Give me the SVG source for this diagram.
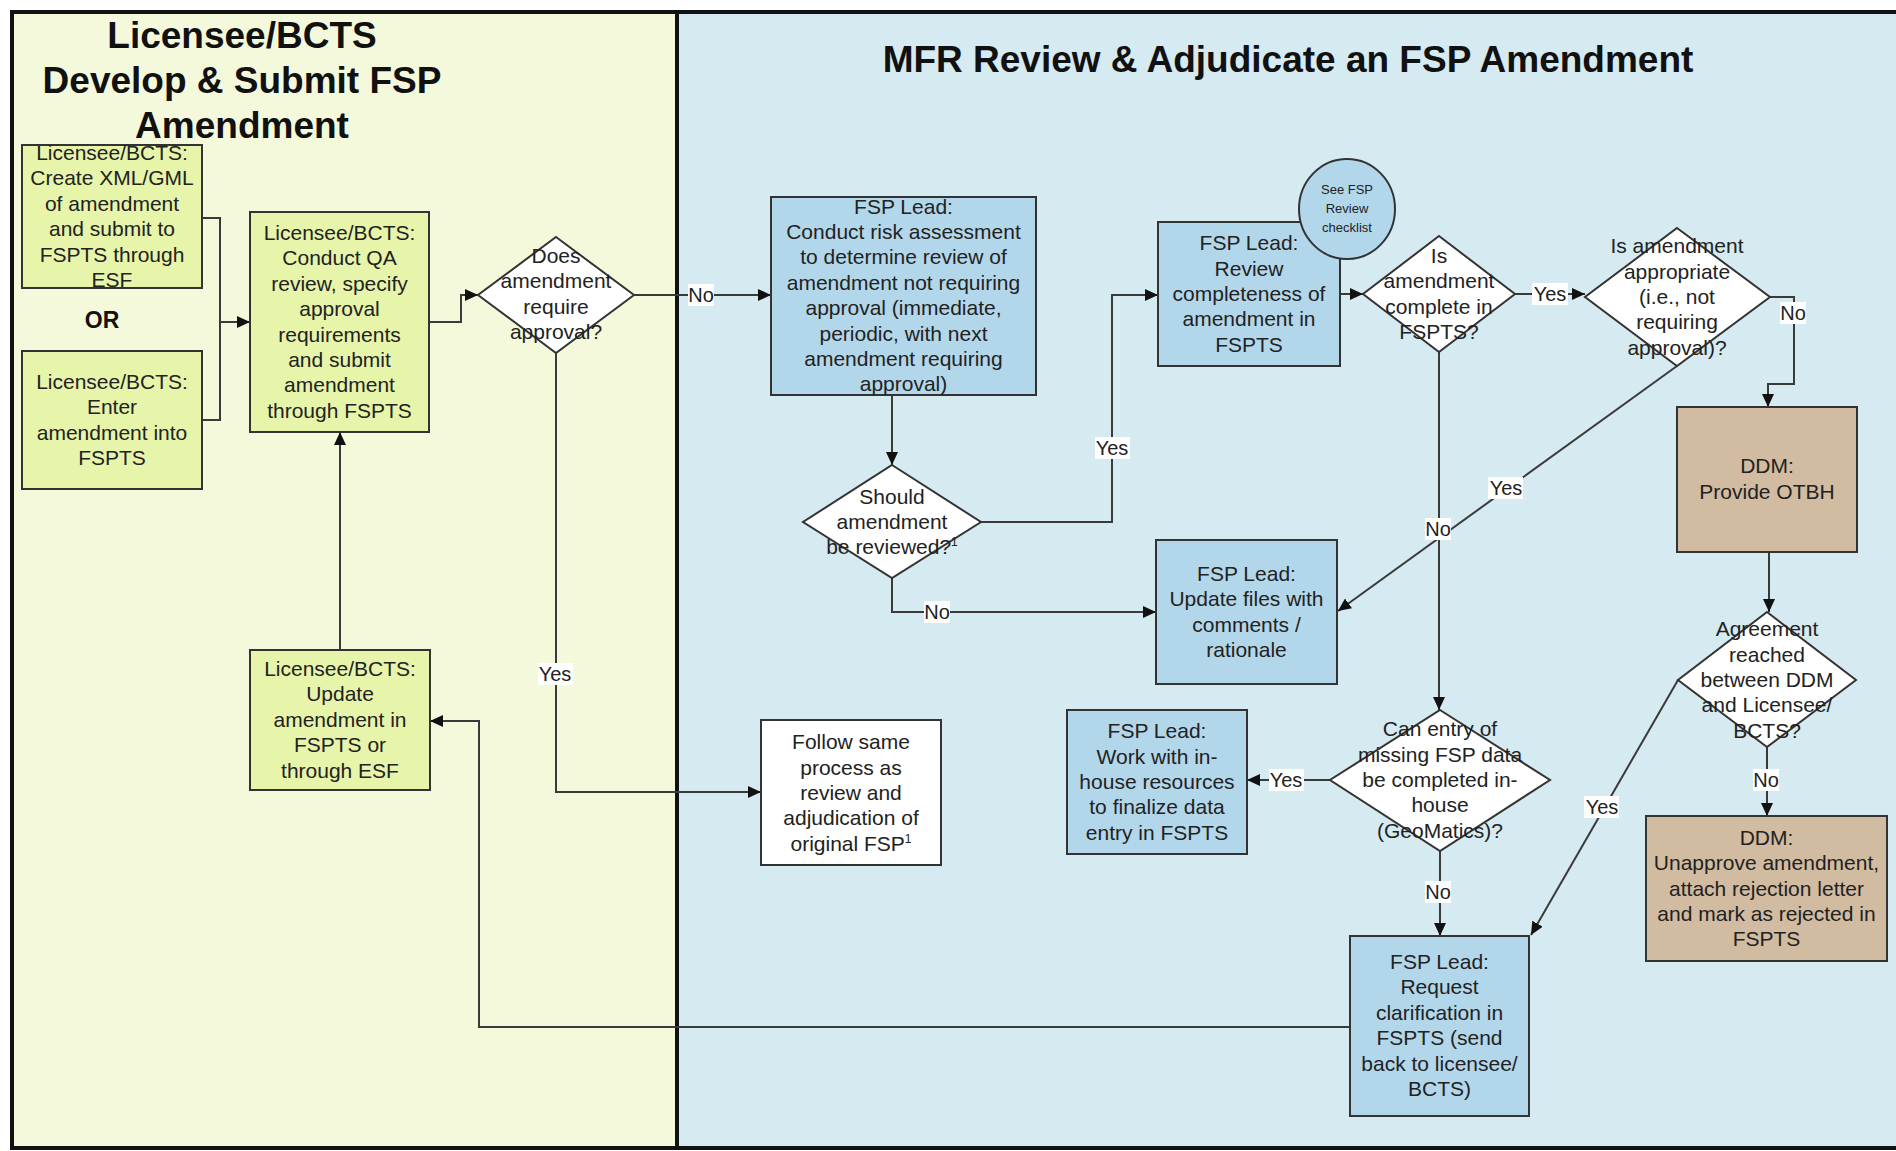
<svg xmlns="http://www.w3.org/2000/svg" width="1896" height="1151" viewBox="0 0 1896 1151">
<defs>
<style>
.t{font-family:"Liberation Sans",Arial,sans-serif;font-size:21px;fill:#222;text-anchor:middle}
.title{font-family:"Liberation Sans",Arial,sans-serif;font-size:37px;font-weight:bold;fill:#111;text-anchor:middle}
.green{fill:#E6F5AA;stroke:#333;stroke-width:2}
.blue{fill:#B3D7EA;stroke:#333;stroke-width:2}
.tan{fill:#D1BBA1;stroke:#333;stroke-width:2}
.white{fill:#fff;stroke:#333;stroke-width:2}
.c{fill:none;stroke:#3a3a3a;stroke-width:2}
.ca{fill:none;stroke:#3a3a3a;stroke-width:2;marker-end:url(#arr)}
.lb{fill:#fff}
.lt{font-family:"Liberation Sans",Arial,sans-serif;font-size:20px;fill:#222;text-anchor:middle}
.sup{font-size:12px}
</style>
<marker id="arr" markerWidth="14" markerHeight="12" refX="13" refY="6" orient="auto" markerUnits="userSpaceOnUse">
<path d="M0,0 L13,6 L0,12 z" fill="#111"/>
</marker>
</defs>
<rect x="0" y="0" width="1896" height="1151" fill="#fff"/>
<g id="lanes">
<rect x="12" y="12" width="665" height="1137" fill="#F5F9DC"/>
<rect x="677" y="12" width="1230" height="1137" fill="#D6EAF1"/>
<rect x="12" y="12" width="1900" height="1136" fill="none" stroke="#111" stroke-width="4"/>
<line x1="677" y1="12" x2="677" y2="1149" stroke="#111" stroke-width="4"/>
<text class="title" x="242" y="48">Licensee/BCTS</text>
<text class="title" x="242" y="93">Develop &amp; Submit FSP</text>
<text class="title" x="242" y="138">Amendment</text>
<text class="title" x="1288" y="72">MFR Review &amp; Adjudicate an FSP Amendment</text>
</g>
<g id="connectors">
<path class="c" d="M202,218 H220 V420 H202"/>
<path class="ca" d="M220,322 H250"/>
<path class="ca" d="M429,322 H461 V295 H478"/>
<path class="ca" d="M634,295 H771"/>
<path class="ca" d="M556,353 V792 H761"/>
<path class="ca" d="M892,396 V465"/>
<path class="ca" d="M981,522 H1112 V295 H1158"/>
<path class="ca" d="M892,578 V612 H1156"/>
<path class="ca" d="M1340,294 H1363"/>
<path class="ca" d="M1515,294 H1585"/>
<path class="ca" d="M1770,297 H1794 V384 H1768 V407"/>
<path class="ca" d="M1677,366 L1338,611"/>
<path class="ca" d="M1439,352 V710"/>
<path class="ca" d="M1769,545 V612"/>
<path class="ca" d="M1767,747 V816"/>
<path class="ca" d="M1678,680 L1531,935"/>
<path class="ca" d="M1330,780 H1247"/>
<path class="ca" d="M1440,851 V936"/>
<path class="ca" d="M1350,1027 H479 V721 H430"/>
<path class="ca" d="M340,650 V432"/>
<g id="labels">
<rect class="lb" x="688" y="284" width="26" height="22"/><text class="lt" x="701" y="302">No</text>
<rect class="lb" x="538" y="663" width="35" height="22"/><text class="lt" x="555" y="681">Yes</text>
<rect class="lb" x="1095" y="437" width="35" height="22"/><text class="lt" x="1112" y="455">Yes</text>
<rect class="lb" x="924" y="601" width="26" height="22"/><text class="lt" x="937" y="619">No</text>
<rect class="lb" x="1532" y="283" width="36" height="22"/><text class="lt" x="1550" y="301">Yes</text>
<rect class="lb" x="1780" y="302" width="26" height="22"/><text class="lt" x="1793" y="320">No</text>
<rect class="lb" x="1488" y="477" width="35" height="22"/><text class="lt" x="1506" y="495">Yes</text>
<rect class="lb" x="1425" y="518" width="26" height="22"/><text class="lt" x="1438" y="536">No</text>
<rect class="lb" x="1753" y="769" width="26" height="22"/><text class="lt" x="1766" y="787">No</text>
<rect class="lb" x="1584" y="796" width="35" height="22"/><text class="lt" x="1602" y="814">Yes</text>
<rect class="lb" x="1269" y="769" width="35" height="22"/><text class="lt" x="1286" y="787">Yes</text>
<rect class="lb" x="1425" y="881" width="26" height="22"/><text class="lt" x="1438" y="899">No</text>
</g>
</g>
<g id="n-create-xml">
<rect class="green" x="22" y="145" width="180" height="143"/>
<text class="t" x="112" y="160"><tspan x="112">Licensee/BCTS:</tspan><tspan x="112" dy="25.4">Create XML/GML</tspan><tspan x="112" dy="25.4">of amendment</tspan><tspan x="112" dy="25.4">and submit to</tspan><tspan x="112" dy="25.4">FSPTS through</tspan><tspan x="112" dy="25.4">ESF</tspan></text>
</g>
<g id="n-or">
<text x="102" y="328" font-family="Liberation Sans, Arial, sans-serif" font-size="23" font-weight="bold" fill="#111" text-anchor="middle">OR</text>
</g>
<g id="n-enter">
<rect class="green" x="22" y="351" width="180" height="138"/>
<text class="t" x="112" y="389"><tspan x="112">Licensee/BCTS:</tspan><tspan x="112" dy="25.4">Enter</tspan><tspan x="112" dy="25.4">amendment into</tspan><tspan x="112" dy="25.4">FSPTS</tspan></text>
</g>
<g id="n-conduct-qa">
<rect class="green" x="250" y="212" width="179" height="220"/>
<text class="t" x="339.5" y="240"><tspan x="339.5">Licensee/BCTS:</tspan><tspan x="339.5" dy="25.4">Conduct QA</tspan><tspan x="339.5" dy="25.4">review, specify</tspan><tspan x="339.5" dy="25.4">approval</tspan><tspan x="339.5" dy="25.4">requirements</tspan><tspan x="339.5" dy="25.4">and submit</tspan><tspan x="339.5" dy="25.4">amendment</tspan><tspan x="339.5" dy="25.4">through FSPTS</tspan></text>
</g>
<g id="n-require-approval">
<polygon class="white" points="556,237 634,295 556,353 478,295"/>
<text class="t" x="556" y="263"><tspan x="556">Does</tspan><tspan x="556" dy="25.4">amendment</tspan><tspan x="556" dy="25.4">require</tspan><tspan x="556" dy="25.4">approval?</tspan></text>
</g>
<g id="n-update-amendment">
<rect class="green" x="250" y="650" width="180" height="140"/>
<text class="t" x="340" y="676"><tspan x="340">Licensee/BCTS:</tspan><tspan x="340" dy="25.4">Update</tspan><tspan x="340" dy="25.4">amendment in</tspan><tspan x="340" dy="25.4">FSPTS or</tspan><tspan x="340" dy="25.4">through ESF</tspan></text>
</g>
<g id="n-risk">
<rect class="blue" x="771" y="197" width="265" height="198"/>
<text class="t" x="903.5" y="213.6"><tspan x="903.5">FSP Lead:</tspan><tspan x="903.5" dy="25.4">Conduct risk assessment</tspan><tspan x="903.5" dy="25.4">to determine review of</tspan><tspan x="903.5" dy="25.4">amendment not requiring</tspan><tspan x="903.5" dy="25.4">approval (immediate,</tspan><tspan x="903.5" dy="25.4">periodic, with next</tspan><tspan x="903.5" dy="25.4">amendment requiring</tspan><tspan x="903.5" dy="25.4">approval)</tspan></text>
</g>
<g id="n-should-review">
<polygon class="white" points="892,465 981,522 892,578 803,522"/>
<text class="t" x="892" y="503.6"><tspan x="892">Should</tspan><tspan x="892" dy="25.4">amendment</tspan><tspan x="892" dy="25.4">be reviewed?<tspan class="sup" dy="-8">1</tspan></tspan></text>
</g>
<g id="n-follow">
<rect class="white" x="761" y="720" width="180" height="145"/>
<text class="t" x="851" y="749.2"><tspan x="851">Follow same</tspan><tspan x="851" dy="25.4">process as</tspan><tspan x="851" dy="25.4">review and</tspan><tspan x="851" dy="25.4">adjudication of</tspan><tspan x="851" dy="25.4">original FSP<tspan class="sup" dy="-8">1</tspan></tspan></text>
</g>
<g id="n-review-complete">
<rect class="blue" x="1158" y="222" width="182" height="144"/>
<text class="t" x="1249" y="250.2"><tspan x="1249">FSP Lead:</tspan><tspan x="1249" dy="25.4">Review</tspan><tspan x="1249" dy="25.4">completeness of</tspan><tspan x="1249" dy="25.4">amendment in</tspan><tspan x="1249" dy="25.4">FSPTS</tspan></text>
</g>
<g id="n-checklist">
<ellipse class="blue" cx="1347" cy="209" rx="48" ry="50"/>
<text class="t" style="font-size:13px" x="1347" y="194"><tspan x="1347">See FSP</tspan><tspan x="1347" dy="19">Review</tspan><tspan x="1347" dy="19">checklist</tspan></text>
</g>
<g id="n-is-complete">
<polygon class="white" points="1439,236 1515,294 1439,352 1363,294"/>
<text class="t" x="1439" y="263"><tspan x="1439">Is</tspan><tspan x="1439" dy="25.4">amendment</tspan><tspan x="1439" dy="25.4">complete in</tspan><tspan x="1439" dy="25.4">FSPTS?</tspan></text>
</g>
<g id="n-appropriate">
<polygon class="white" points="1677,228 1770,297 1677,366 1585,297"/>
<text class="t" x="1677" y="253.2"><tspan x="1677">Is amendment</tspan><tspan x="1677" dy="25.4">appropriate</tspan><tspan x="1677" dy="25.4">(i.e., not</tspan><tspan x="1677" dy="25.4">requiring</tspan><tspan x="1677" dy="25.4">approval)?</tspan></text>
</g>
<g id="n-otbh">
<rect class="tan" x="1677" y="407" width="180" height="145"/>
<text class="t" x="1767" y="473.3"><tspan x="1767">DDM:</tspan><tspan x="1767" dy="25.4">Provide OTBH</tspan></text>
</g>
<g id="n-agreement">
<polygon class="white" points="1767,612 1856,680 1767,747 1678,680"/>
<text class="t" x="1767" y="636.2"><tspan x="1767">Agreement</tspan><tspan x="1767" dy="25.4">reached</tspan><tspan x="1767" dy="25.4">between DDM</tspan><tspan x="1767" dy="25.4">and Licensee/</tspan><tspan x="1767" dy="25.4">BCTS?</tspan></text>
</g>
<g id="n-unapprove">
<rect class="tan" x="1646" y="816" width="241" height="145"/>
<text class="t" x="1766.5" y="844.7"><tspan x="1766.5">DDM:</tspan><tspan x="1766.5" dy="25.4">Unapprove amendment,</tspan><tspan x="1766.5" dy="25.4">attach rejection letter</tspan><tspan x="1766.5" dy="25.4">and mark as rejected in</tspan><tspan x="1766.5" dy="25.4">FSPTS</tspan></text>
</g>
<g id="n-update-files">
<rect class="blue" x="1156" y="540" width="181" height="144"/>
<text class="t" x="1246.5" y="580.9"><tspan x="1246.5">FSP Lead:</tspan><tspan x="1246.5" dy="25.4">Update files with</tspan><tspan x="1246.5" dy="25.4">comments /</tspan><tspan x="1246.5" dy="25.4">rationale</tspan></text>
</g>
<g id="n-can-entry">
<polygon class="white" points="1440,710 1550,780 1440,851 1330,780"/>
<text class="t" x="1440" y="736.2"><tspan x="1440">Can entry of</tspan><tspan x="1440" dy="25.4">missing FSP data</tspan><tspan x="1440" dy="25.4">be completed in-</tspan><tspan x="1440" dy="25.4">house</tspan><tspan x="1440" dy="25.4">(GeoMatics)?</tspan></text>
</g>
<g id="n-work-inhouse">
<rect class="blue" x="1067" y="710" width="180" height="144"/>
<text class="t" x="1157" y="738.2"><tspan x="1157">FSP Lead:</tspan><tspan x="1157" dy="25.4">Work with in-</tspan><tspan x="1157" dy="25.4">house resources</tspan><tspan x="1157" dy="25.4">to finalize data</tspan><tspan x="1157" dy="25.4">entry in FSPTS</tspan></text>
</g>
<g id="n-request">
<rect class="blue" x="1350" y="936" width="179" height="180"/>
<text class="t" x="1439.5" y="969"><tspan x="1439.5">FSP Lead:</tspan><tspan x="1439.5" dy="25.4">Request</tspan><tspan x="1439.5" dy="25.4">clarification in</tspan><tspan x="1439.5" dy="25.4">FSPTS (send</tspan><tspan x="1439.5" dy="25.4">back to licensee/</tspan><tspan x="1439.5" dy="25.4">BCTS)</tspan></text>
</g>
</svg>
